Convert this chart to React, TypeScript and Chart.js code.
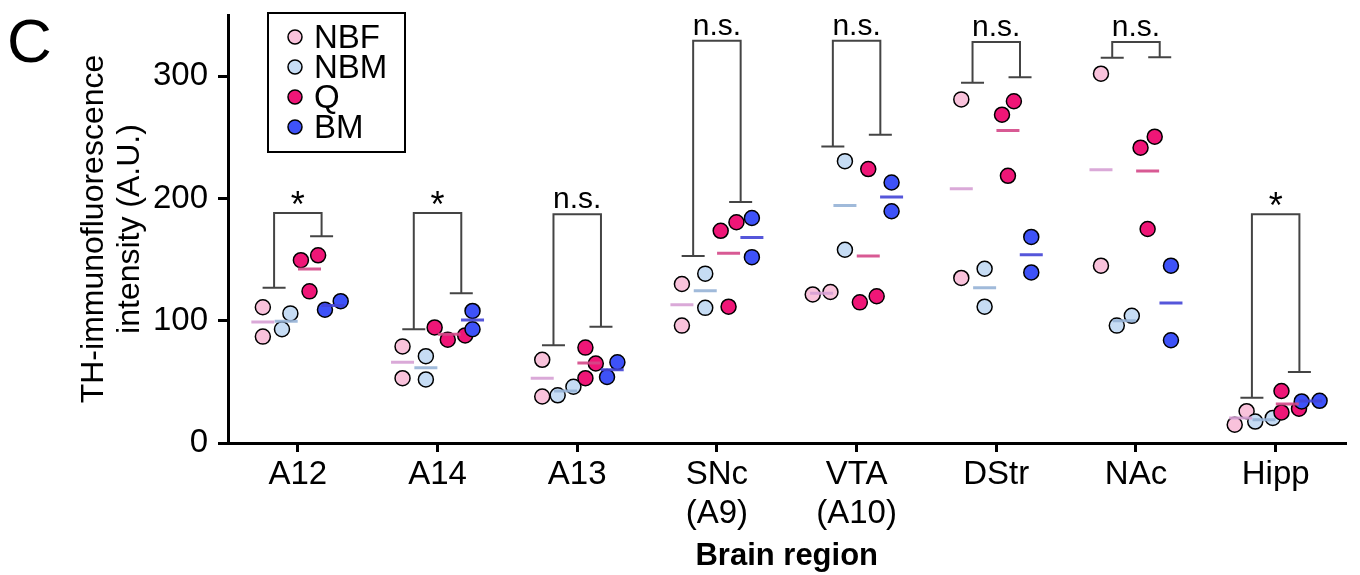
import React, { useEffect, useRef } from 'react';
import { Chart, registerables } from 'chart.js';

Chart.register(...registerables);

// ---------------- data ----------------
const categories: (string | string[])[] = ['A12', 'A14', 'A13', ['SNc', '(A9)'], ['VTA', '(A10)'], 'DStr', 'NAc', 'Hipp'];
const groupNames = ['NBF', 'NBM', 'Q', 'BM'];

const nbfValues = [[111, 87], [79, 53], [68, 38], [130, 96], [121.5, 123.5], [281, 135], [302, 145], [15, 26]];
const nbmValues = [[106, 93], [71, 52], [39, 46], [138.5, 110.5], [230.5, 158], [142.5, 111.5], [96, 104], [17.5, 20.5]];
const qValues = [[153.5, 149.5, 124], [94.5, 84.5, 88], [78, 65, 53], [180.5, 173.5, 111.5], [224, 115, 120], [279.5, 268.5, 218.5], [250.5, 241.5, 175], [42.5, 25, 28]];
const bmValues = [[109, 116], [108, 93], [54, 66], [184, 152], [213, 189.5], [168.5, 139.5], [145, 84], [34, 34.5]];

const yTickValues = [0, 100, 200, 300];

const bracketLeftEnd = [127, 93, 80, 153, 242.5, 294.5, 315, 37];
const bracketRightEnd = [169, 122.5, 95, 197, 252, 299, 315.5, 58];
const bracketTop = [188, 188, 187, 329, 329, 328, 328, 187];
const bracketLabels = ['*', '*', 'n.s.', 'n.s.', 'n.s.', 'n.s.', 'n.s.', '*'];

// ---------------- styles / layout ----------------
const FONT = '"Liberation Sans", Arial, Helvetica, sans-serif';
const fillColors = ['#F9C2DB', '#C6DCF4', '#EF1677', '#3E52F8'];
const meanColors = ['rgba(214,160,212,0.9)', 'rgba(150,178,214,0.9)', 'rgba(212,72,136,0.9)', 'rgba(66,68,214,0.9)'];
const GROUP_STEP = 0.167; // category units between group centres
const BRACKET_HALF = 0.17;
const PX_PER_CAT = 140.5;
const PX_PER_UNIT = 428 / 350;
const MIN_GAP_PX = 18;

const allGroups = [nbfValues, nbmValues, qValues, bmValues];

function groupOffset(g: number) {
  return (g - 1.5) * GROUP_STEP;
}

function mean(a: number[]) {
  return a.reduce((s, v) => s + v, 0) / a.length;
}

// simple beeswarm: spread overlapping points horizontally (result in category units)
function swarm(values: number[]): number[] {
  const n = values.length;
  const order = values.map((_, i) => i).sort((a, b) => values[a] - values[b]);
  const xs = new Array(n).fill(0);
  const placed: number[] = [];
  for (const i of order) {
    const intervals: [number, number][] = [];
    for (const j of placed) {
      const dy = Math.abs(values[i] - values[j]) * PX_PER_UNIT;
      if (dy < MIN_GAP_PX) {
        const h = Math.sqrt(MIN_GAP_PX * MIN_GAP_PX - dy * dy);
        intervals.push([xs[j] - h, xs[j] + h]);
      }
    }
    const cands = [0];
    intervals.forEach(([a, b]) => cands.push(a, b));
    const ok = cands.filter((c) => intervals.every(([a, b]) => c <= a + 1e-6 || c >= b - 1e-6));
    ok.sort((a, b) => Math.abs(a) - Math.abs(b) || b - a);
    xs[i] = ok[0];
    placed.push(i);
  }
  const parent = values.map((_, i) => i);
  const find = (a: number): number => (parent[a] === a ? a : (parent[a] = find(parent[a])));
  for (let i = 0; i < n; i++)
    for (let j = i + 1; j < n; j++)
      if (Math.abs(values[i] - values[j]) * PX_PER_UNIT < MIN_GAP_PX) parent[find(i)] = find(j);
  const groups: Record<number, number[]> = {};
  for (let i = 0; i < n; i++) (groups[find(i)] = groups[find(i)] || []).push(i);
  Object.values(groups).forEach((members) => {
    const m = mean(members.map((k) => xs[k]));
    members.forEach((k) => (xs[k] -= m));
  });
  return xs.map((x) => x / PX_PER_CAT);
}

const bracketLabelPlugin = {
  id: 'bracketLabels',
  afterDatasetsDraw(chart: any) {
    const { ctx, scales } = chart;
    ctx.save();
    ctx.fillStyle = '#000';
    ctx.textAlign = 'center';
    ctx.textBaseline = 'alphabetic';
    bracketLabels.forEach((lab, i) => {
      const x = scales.x.getPixelForValue(i);
      const y = scales.y.getPixelForValue(bracketTop[i]);
      if (lab === '*') {
        ctx.font = `36px ${FONT}`;
        ctx.fillText(lab, x, y + 4);
      } else {
        ctx.font = `30px ${FONT}`;
        ctx.fillText(lab, x, y - 6);
      }
    });
    ctx.restore();
  },
};

const legendPlugin = {
  id: 'boxLegend',
  afterDraw(chart: any) {
    const { ctx, chartArea } = chart;
    const bx = chartArea.left + 40;
    const by = chartArea.top - 2;
    ctx.save();
    ctx.lineWidth = 2;
    ctx.strokeStyle = '#000';
    ctx.strokeRect(bx, by, 137, 139);
    ctx.font = `33px ${FONT}`;
    ctx.textBaseline = 'middle';
    ctx.textAlign = 'left';
    groupNames.forEach((name, i) => {
      const cy = by + 24 + i * 30;
      ctx.beginPath();
      ctx.arc(bx + 27, cy, 7, 0, Math.PI * 2);
      ctx.fillStyle = fillColors[i];
      ctx.fill();
      ctx.lineWidth = 1.5;
      ctx.stroke();
      ctx.fillStyle = '#000';
      ctx.fillText(name, bx + 46, cy + 2);
    });
    ctx.restore();
  },
};

const panelLetterPlugin = {
  id: 'panelLetter',
  afterDraw(chart: any) {
    const { ctx } = chart;
    ctx.save();
    ctx.fillStyle = '#000';
    ctx.font = `62px ${FONT}`;
    ctx.textBaseline = 'alphabetic';
    ctx.textAlign = 'left';
    ctx.fillText('C', 7, 62);
    ctx.restore();
  },
};

export default function App() {
  const ref = useRef<HTMLCanvasElement | null>(null);

  useEffect(() => {
    if (!ref.current) return;

    const pointSets = allGroups.map((vals, g) => ({
      type: 'scatter' as const,
      label: groupNames[g],
      order: 4 - g + 1,
      data: vals.flatMap((arr, c) => {
        const jit = swarm(arr);
        return arr.map((v, k) => ({ x: c + groupOffset(g) + jit[k], y: v }));
      }),
      pointRadius: 7.5,
      pointHoverRadius: 7.5,
      pointBackgroundColor: fillColors[g],
      pointBorderColor: '#000',
      pointBorderWidth: 1.5,
      showLine: false,
    }));

    const meanSets = allGroups.map((vals, g) => ({
      type: 'scatter' as const,
      label: groupNames[g] + ' mean',
      order: 0,
      data: vals.map((arr, c) => ({ x: c + groupOffset(g), y: mean(arr) })),
      pointStyle: 'line',
      pointRadius: 11.5,
      pointHoverRadius: 11.5,
      pointBorderColor: meanColors[g],
      pointBorderWidth: 3,
      showLine: false,
    }));

    const bracketSets = categories.map((_, c) => ({
      type: 'scatter' as const,
      label: 'bracket' + c,
      order: 10,
      data: [
        { x: c - BRACKET_HALF, y: bracketLeftEnd[c] },
        { x: c - BRACKET_HALF, y: bracketTop[c] },
        { x: c + BRACKET_HALF, y: bracketTop[c] },
        { x: c + BRACKET_HALF, y: bracketRightEnd[c] },
      ],
      showLine: true,
      borderColor: '#444',
      borderWidth: 2,
      pointRadius: 0,
      tension: 0,
    }));

    const capSet = {
      type: 'scatter' as const,
      label: 'caps',
      order: 10,
      data: categories.flatMap((_, c) => [
        { x: c - BRACKET_HALF, y: bracketLeftEnd[c] },
        { x: c + BRACKET_HALF, y: bracketRightEnd[c] },
      ]),
      pointStyle: 'line',
      pointRadius: 11.5,
      pointHoverRadius: 11.5,
      pointBorderColor: '#444',
      pointBorderWidth: 2,
      showLine: false,
    };

    const chart = new Chart(ref.current, {
      type: 'scatter',
      data: { datasets: [...meanSets, ...pointSets, ...bracketSets, capSet] as any },
      options: {
        animation: false,
        responsive: false,
        devicePixelRatio: 1,
        events: [],
        layout: { padding: { top: 15, right: 8, left: 0, bottom: 0 } },
        plugins: { legend: { display: false }, tooltip: { enabled: false } },
        scales: {
          x: {
            type: 'linear',
            min: -0.5,
            max: 7.5,
            afterBuildTicks: (s: any) => {
              s.ticks = categories.map((_, i) => ({ value: i }));
            },
            afterFit: (s: any) => {
              s.height = 132;
              s.paddingLeft = 0;
              s.paddingRight = 0;
            },
            ticks: {
              callback: (v: any) => categories[Math.round(Number(v))] as any,
              color: '#000',
              font: { family: FONT, size: 33, lineHeight: 1.2 },
              padding: 3,
              maxRotation: 0,
              autoSkip: false,
            },
            grid: { drawOnChartArea: false, drawTicks: true, tickLength: 9, color: '#000', lineWidth: 3 },
            border: { display: true, color: '#000', width: 3 },
            title: {
              display: true,
              text: 'Brain region',
              color: '#000',
              font: { family: FONT, size: 31, weight: 'bold', lineHeight: 1.2 },
              padding: { top: 0, bottom: 0 },
            },
          },
          y: {
            type: 'linear',
            min: 0,
            max: 350,
            afterBuildTicks: (s: any) => {
              s.ticks = yTickValues.map((v) => ({ value: v }));
            },
            afterFit: (s: any) => {
              s.width = 228;
              s.paddingTop = 0;
              s.paddingBottom = 0;
            },
            ticks: { color: '#000', font: { family: FONT, size: 33 }, padding: 10 },
            grid: { drawOnChartArea: false, drawTicks: true, tickLength: 10, color: '#000', lineWidth: 3 },
            border: { display: true, color: '#000', width: 3 },
            title: {
              display: true,
              text: ['TH-immunofluorescence', 'intensity (A.U.)'],
              color: '#000',
              font: { family: FONT, size: 32, lineHeight: 1.1 },
              padding: { top: 77, bottom: 0 },
            },
          },
        },
      } as any,
      plugins: [bracketLabelPlugin, legendPlugin, panelLetterPlugin],
    });

    return () => chart.destroy();
  }, []);

  return (
    <div style={{ position: 'fixed', left: 0, top: 0, width: 1360, height: 575, background: '#fff' }}>
      <canvas ref={ref} width={1360} height={575} style={{ display: 'block', width: 1360, height: 575 }} />
    </div>
  );
}
